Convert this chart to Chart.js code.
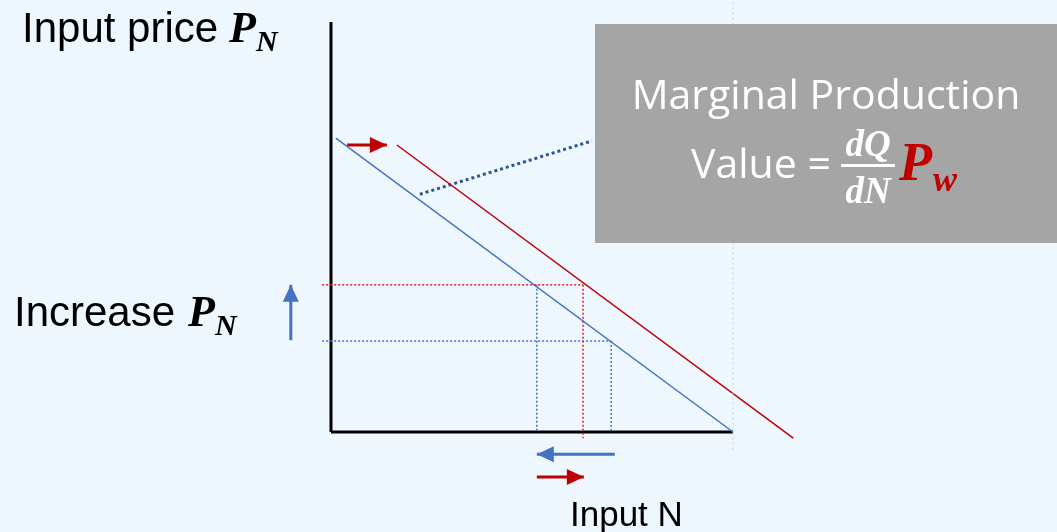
<!DOCTYPE html>
<html>
<head>
<meta charset="utf-8">
<script src="https://cdn.jsdelivr.net/npm/chart.js@4/dist/chart.umd.min.js"></script>
<style>
  html, body { margin: 0; padding: 0; background: #EEF6FE; }
  #wrap { width: 1057px; height: 532px; position: relative; }
</style>
</head>
<body>
<div id="wrap"><canvas id="mpv"></canvas></div>
<script>
// Valeur de la production marginale : déplacement de la courbe quand P_w monte
// unités : quantité N (x) et prix P_N (y), origine au coin des axes

const axisX = [{ x: 0, y: 0 }, { x: 10, y: 0 }];
const axisY = [{ x: 0, y: 0 }, { x: 0, y: 10 }];

const mpvBase = [{ x: 0.12, y: 7.17 }, { x: 10, y: 0 }];
const mpvShifted = [{ x: 1.64, y: 7.0 }, { x: 11.5, y: -0.15 }];

const priceHigh = 3.59;
const priceLow = 2.22;
const qBaseHigh = 5.12;   // N sur la courbe bleue au prix haut
const qShiftHigh = 6.27;  // N sur la courbe rouge au prix haut
const qBaseLow = 6.97;    // N sur la courbe bleue au prix bas
const guideStart = -0.22;

const pointer = [{ x: 2.21, y: 5.8 }, { x: 6.49, y: 7.1 }];
const edgeMark = [{ x: 10, y: 10.6 }, { x: 10, y: -0.49 }];

const arrowShift = [{ x: 0.4, y: 7.0 }, { x: 1.39, y: 7.0 }];
const arrowPrice = [{ x: -1.0, y: 2.24 }, { x: -1.0, y: 3.59 }];
const arrowQBlue = [{ x: 7.06, y: -0.54 }, { x: 5.12, y: -0.54 }];
const arrowQRed = [{ x: 5.12, y: -1.1 }, { x: 6.29, y: -1.1 }];

const BLUE = '#4472C4';
const RED = '#C00000';
const GUIDE_RED = '#E0202A';

function seg(data, color, width, dash, extra) {
  return Object.assign({
    data,
    showLine: true,
    borderColor: color,
    backgroundColor: color,
    borderWidth: width,
    borderDash: dash || [],
    pointRadius: 0,
    borderCapStyle: 'butt',
  }, extra || {});
}

const datasets = [
  seg(edgeMark, '#C9CED4', 1, [2, 3]),
  seg([{ x: guideStart, y: priceHigh }, { x: qShiftHigh, y: priceHigh }], GUIDE_RED, 1.5, [2, 2]),
  seg([{ x: guideStart, y: priceLow }, { x: qBaseLow, y: priceLow }], BLUE, 1.5, [2, 2]),
  seg([{ x: qBaseHigh, y: priceHigh }, { x: qBaseHigh, y: 0 }], BLUE, 1.5, [2, 2]),
  seg([{ x: qShiftHigh, y: priceHigh }, { x: qShiftHigh, y: -0.15 }], GUIDE_RED, 1.5, [2, 2]),
  seg([{ x: qBaseLow, y: priceLow }, { x: qBaseLow, y: 0 }], BLUE, 1.5, [2, 2]),
  seg(mpvBase, BLUE, 1.5),
  seg(mpvShifted, RED, 1.5),
  seg(axisX, '#000', 3),
  seg(axisY, '#000', 3),
  seg(pointer, '#2F5597', 3, [3, 3]),
  seg(arrowShift, RED, 3, [], { arrow: true }),
  seg(arrowPrice, BLUE, 3, [], { arrow: true }),
  seg(arrowQBlue, BLUE, 3, [], { arrow: true }),
  seg(arrowQRed, RED, 3, [], { arrow: true }),
];

const arrowHeads = {
  id: 'arrowHeads',
  afterDatasetsDraw(chart) {
    const { ctx, scales: { x, y } } = chart;
    chart.data.datasets.forEach((ds) => {
      if (!ds.arrow) return;
      const a = ds.data[ds.data.length - 2];
      const b = ds.data[ds.data.length - 1];
      const ax = x.getPixelForValue(a.x), ay = y.getPixelForValue(a.y);
      const bx = x.getPixelForValue(b.x), by = y.getPixelForValue(b.y);
      const ang = Math.atan2(by - ay, bx - ax);
      const len = 17, half = 8;
      ctx.save();
      ctx.fillStyle = ds.borderColor;
      ctx.translate(bx, by);
      ctx.rotate(ang);
      ctx.beginPath();
      ctx.moveTo(0, 0);
      ctx.lineTo(-len, -half);
      ctx.lineTo(-len, half);
      ctx.closePath();
      ctx.fill();
      ctx.restore();
    });
  },
};

const labels = {
  id: 'labels',
  afterDraw(chart) {
    const ctx = chart.ctx;
    ctx.save();
    ctx.textBaseline = 'alphabetic';
    ctx.textAlign = 'left';

    ctx.fillStyle = '#000';
    ctx.font = '42px "Liberation Sans", Arial, sans-serif';
    ctx.fillText('Input price', 22, 42);
    ctx.fillText('Increase', 14, 326);
    ctx.font = '35px "Liberation Sans", Arial, sans-serif';
    ctx.fillText('Input N', 570, 526);

    ctx.font = 'italic bold 44px "Liberation Serif", serif';
    ctx.fillText('P', 229, 42);
    ctx.fillText('P', 188, 326);
    ctx.font = 'italic bold 30px "Liberation Serif", serif';
    ctx.fillText('N', 256, 51);
    ctx.fillText('N', 215, 335);

    // encadré gris
    ctx.fillStyle = '#A5A5A5';
    ctx.fillRect(595, 24, 462, 219);

    ctx.fillStyle = '#fff';
    ctx.font = '41px "Open Sans", sans-serif';
    ctx.textAlign = 'center';
    ctx.fillText('Marginal Production', 826, 109);
    ctx.textAlign = 'left';
    ctx.fillText('Value =', 691, 178);

    ctx.font = 'italic bold 37px "Liberation Serif", serif';
    ctx.textAlign = 'center';
    ctx.fillText('dQ', 868, 156);
    ctx.fillText('dN', 868, 203);
    ctx.fillRect(841, 164, 54, 3);

    ctx.textAlign = 'left';
    ctx.fillStyle = RED;
    ctx.font = 'italic bold 54px "Liberation Serif", serif';
    ctx.fillText('P', 899, 180);
    ctx.font = 'italic bold 36px "Liberation Serif", serif';
    ctx.fillText('w', 933, 191);
    ctx.restore();
  },
};

new Chart(document.getElementById('mpv'), {
  type: 'scatter',
  data: { datasets },
  options: {
    responsive: true,
    maintainAspectRatio: false,
    animation: false,
    layout: { padding: 0 },
    plugins: { legend: { display: false }, tooltip: { enabled: false } },
    scales: {
      x: { type: 'linear', display: false, min: -8.234, max: 18.06 },
      y: { type: 'linear', display: false, min: -2.439, max: 10.537 },
    },
  },
  plugins: [arrowHeads, labels],
});
</script>
</body>
</html>
